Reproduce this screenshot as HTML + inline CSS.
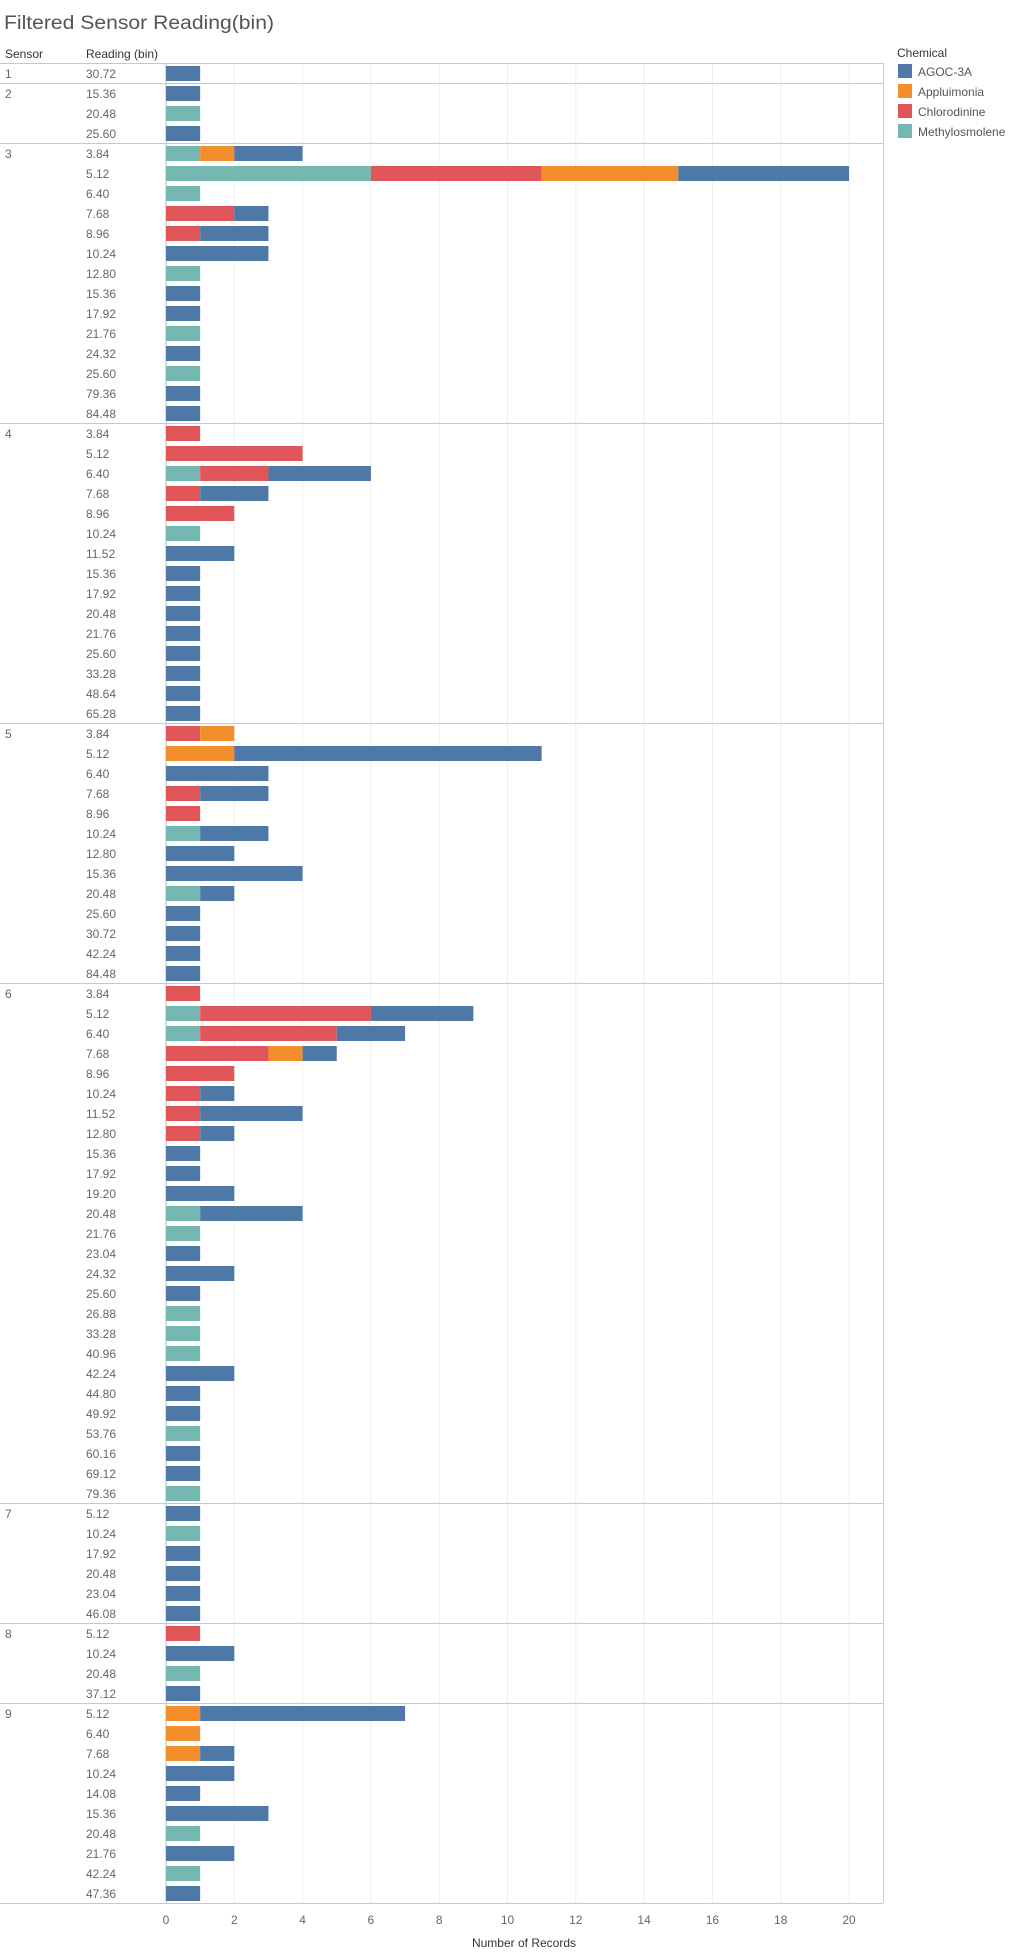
<!DOCTYPE html>
<html><head><meta charset="utf-8"><style>
body{margin:0;background:#fff}
svg{display:block;font-family:"Liberation Sans Narrow","Liberation Sans",sans-serif}
</style></head><body>
<svg id="chart" width="1035" height="1959" xmlns="http://www.w3.org/2000/svg">
<text x="4" y="29" font-size="19" fill="#555" textLength="270" lengthAdjust="spacingAndGlyphs">Filtered Sensor Reading(bin)</text>
<text x="5" y="58" font-size="12" fill="#333">Sensor</text>
<text x="86" y="58" font-size="12" fill="#333">Reading (bin)</text>
<text x="897" y="57" font-size="12" fill="#333">Chemical</text>
<g id="grid"></g><g id="bars"></g><g id="labels"></g><g id="legend"></g><g id="xaxis"></g>
<text x="524" y="1947" font-size="12" fill="#333" text-anchor="middle">Number of Records</text>
</svg>
<script>
const sensors=["1","2","2","2","3","3","3","3","3","3","3","3","3","3","3","3","3","3","4","4","4","4","4","4","4","4","4","4","4","4","4","4","4","5","5","5","5","5","5","5","5","5","5","5","5","5","6","6","6","6","6","6","6","6","6","6","6","6","6","6","6","6","6","6","6","6","6","6","6","6","6","6","7","7","7","7","7","7","8","8","8","8","9","9","9","9","9","9","9","9","9","9"];
const readings=["30.72","15.36","20.48","25.60","3.84","5.12","6.40","7.68","8.96","10.24","12.80","15.36","17.92","21.76","24.32","25.60","79.36","84.48","3.84","5.12","6.40","7.68","8.96","10.24","11.52","15.36","17.92","20.48","21.76","25.60","33.28","48.64","65.28","3.84","5.12","6.40","7.68","8.96","10.24","12.80","15.36","20.48","25.60","30.72","42.24","84.48","3.84","5.12","6.40","7.68","8.96","10.24","11.52","12.80","15.36","17.92","19.20","20.48","21.76","23.04","24.32","25.60","26.88","33.28","40.96","42.24","44.80","49.92","53.76","60.16","69.12","79.36","5.12","10.24","17.92","20.48","23.04","46.08","5.12","10.24","20.48","37.12","5.12","6.40","7.68","10.24","14.08","15.36","20.48","21.76","42.24","47.36"];
const methylosmolene=[0,0,1,0,1,6,1,0,0,0,1,0,0,1,0,1,0,0,0,0,1,0,0,1,0,0,0,0,0,0,0,0,0,0,0,0,0,0,1,0,0,1,0,0,0,0,0,1,1,0,0,0,0,0,0,0,0,1,1,0,0,0,1,1,1,0,0,0,1,0,0,1,0,1,0,0,0,0,0,0,1,0,0,0,0,0,0,0,1,0,1,0];
const chlorodinine=[0,0,0,0,0,5,0,2,1,0,0,0,0,0,0,0,0,0,1,4,2,1,2,0,0,0,0,0,0,0,0,0,0,1,0,0,1,1,0,0,0,0,0,0,0,0,1,5,4,3,2,1,1,1,0,0,0,0,0,0,0,0,0,0,0,0,0,0,0,0,0,0,0,0,0,0,0,0,1,0,0,0,0,0,0,0,0,0,0,0,0,0];
const appluimonia=[0,0,0,0,1,4,0,0,0,0,0,0,0,0,0,0,0,0,0,0,0,0,0,0,0,0,0,0,0,0,0,0,0,1,2,0,0,0,0,0,0,0,0,0,0,0,0,0,0,1,0,0,0,0,0,0,0,0,0,0,0,0,0,0,0,0,0,0,0,0,0,0,0,0,0,0,0,0,0,0,0,0,1,1,1,0,0,0,0,0,0,0];
const agoc3a=[1,1,0,1,2,5,0,1,2,3,0,1,1,0,1,0,1,1,0,0,3,2,0,0,2,1,1,1,1,1,1,1,1,0,9,3,2,0,2,2,4,1,1,1,1,1,0,3,2,1,0,1,3,1,1,1,2,3,0,1,2,1,0,0,0,2,1,1,0,1,1,0,1,0,1,1,1,1,0,2,0,1,6,0,1,2,1,3,0,2,0,1];
const ticks=[0,2,4,6,8,10,12,14,16,18,20];
const seriesNames=["AGOC-3A","Appluimonia","Chlorodinine","Methylosmolene"];
const colors={"AGOC-3A":"#4e79a7","Appluimonia":"#f28e2b","Chlorodinine":"#e15759","Methylosmolene":"#76b7b2"};
const NS="http://www.w3.org/2000/svg";
const x0=166,unit=34.15,plotTop=63,rowH=20,plotRight=883;
const xs=v=>x0+v*unit, ys=i=>plotTop+i*rowH;
const n=readings.length,plotBottom=ys(n);
function mk(tag,attrs,parent){const e=document.createElementNS(NS,tag);for(const k in attrs)e.setAttribute(k,attrs[k]);parent.appendChild(e);return e;}
const grid=document.getElementById('grid'),bars=document.getElementById('bars'),labels=document.getElementById('labels'),legend=document.getElementById('legend'),xaxis=document.getElementById('xaxis');
ticks.forEach(t=>{
 const l=mk('line',{x1:xs(t),x2:xs(t),y1:plotTop,y2:plotBottom,stroke:t===0?'#bbb':'#efefef','stroke-width':1},grid);
 
 
 const tx=mk('text',{x:xs(t),y:plotBottom+21,'font-size':12,fill:'#666','text-anchor':'middle'},xaxis);
 tx.textContent=t;
 
 
});
for(let i=0;i<=n;i++){
 if(i===0||i===n||sensors[i]!==sensors[i-1]){
  const l=mk('line',{x1:0,x2:plotRight,y1:ys(i)+0.5,y2:ys(i)+0.5,stroke:'#c8c8c8','stroke-width':1},grid);
  
  
  if(i<n){const t=mk('text',{x:5,y:ys(i)+15,'font-size':12,fill:'#666'},labels);t.textContent=sensors[i];
   
   }
 }
}
const rb=mk('line',{x1:plotRight+0.5,x2:plotRight+0.5,y1:plotTop,y2:plotBottom,stroke:'#c8c8c8'},grid);


const stacks=[["Methylosmolene",methylosmolene],["Chlorodinine",chlorodinine],["Appluimonia",appluimonia],["AGOC-3A",agoc3a]];
for(let i=0;i<n;i++){
 const t=mk('text',{x:86,y:ys(i)+15,'font-size':12,fill:'#666'},labels);t.textContent=readings[i];
 
 
 let acc=0;
 stacks.forEach(([name,arr])=>{const v=arr[i];if(!v)return;
  const r=mk('rect',{x:xs(acc),y:ys(i)+3,width:xs(acc+v)-xs(acc),height:15,fill:colors[name]},bars);
  
  
  acc+=v;});
}
seriesNames.forEach((s,k)=>{
 const r=mk('rect',{x:898,y:64+k*20,width:14,height:14,fill:colors[s]},legend);
 
 
 const t=mk('text',{x:918,y:76+k*20,'font-size':12,fill:'#555'},legend);t.textContent=s;
 
 
});
</script>
</body></html>
